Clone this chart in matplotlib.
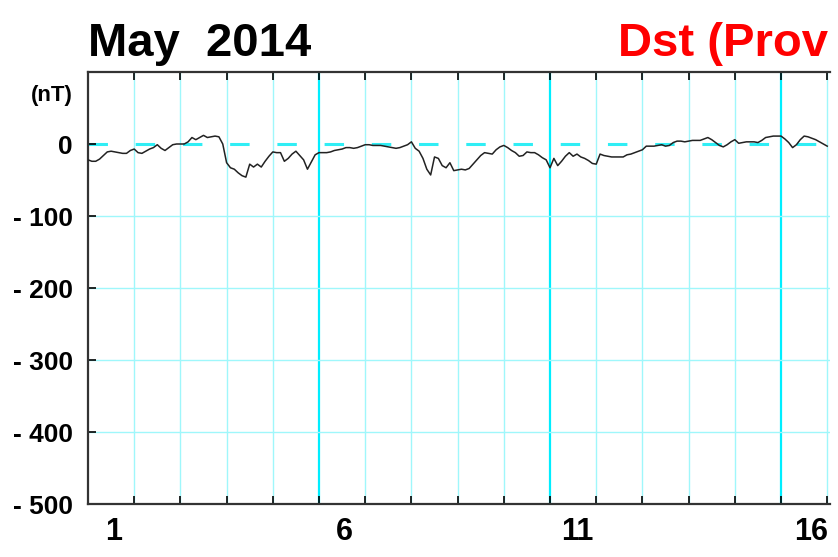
import numpy as np
import matplotlib
matplotlib.use("Agg")
import matplotlib.pyplot as plt

plt.rcParams['font.family'] = ['Liberation Sans', 'DejaVu Sans']
plt.rcParams['font.weight'] = 'bold'
plt.rcParams['lines.scale_dashes'] = False

# Dst (nT), 2-hourly values from 1 May 00h
dst = [
    -22, -24, -24, -21, -16, -11, -10, -11, -12, -13, -13, -9,   # 1
    -7, -12, -13, -10, -7, -5, -1, -6, -9, -5, -1, 0,            # 2
    0, 0, 3, 9, 6, 9, 12, 9, 10, 11, 10, 0,                      # 3
    -26, -33, -35, -40, -44, -46, -28, -32, -28, -32, -24, -17,  # 4
    -11, -12, -12, -24, -20, -14, -10, -16, -22, -35, -25, -15,  # 5
    -12, -12, -12, -11, -9, -8, -7, -5, -5, -6, -5, -3,          # 6
    -1, -1, -2, -2, -2, -3, -4, -5, -6, -5, -3, -1,              # 7
    3, -6, -10, -20, -35, -43, -18, -20, -30, -33, -26, -37,     # 8
    -36, -35, -36, -34, -28, -22, -16, -12, -13, -14, -8, -4,    # 9
    -2, -5, -9, -12, -17, -16, -11, -12, -12, -15, -19, -22,     # 10
    -33, -20, -30, -24, -17, -12, -17, -14, -18, -20, -23, -27,  # 11
    -28, -14, -16, -17, -18, -18, -18, -18, -15, -14, -12, -10,  # 12
    -8, -3, -3, -3, -2, -1, -3, -2, 2, 4, 4, 3,                  # 13
    4, 5, 5, 5, 7, 9, 6, 2, -2, -4, -1, 3,                       # 14
    6, 1, 2, 3, 3, 3, 2, 5, 9, 10, 11, 11,                       # 15
    11, 7, 2, -5, -1, 6, 11, 10, 8, 6, 3, 0, -3,                 # 16
]
hours_step = 2
day_labels = ['1', '6', '11', '16']
day_label_pos = [0.55, 5.55, 10.6, 15.65]
ytick_vals = [0, -100, -200, -300, -400, -500]
ytick_labels = ['0', '- 100', '- 200', '- 300', '- 400', '- 500']

t = np.arange(len(dst)) * hours_step / 24.0

fig = plt.figure(figsize=(8.38, 5.57), dpi=100)
ax = fig.add_axes([88/838, 1-504/557, (830-88)/838, (504-72)/557])
ax.set_xlim(0, 16.06)
ax.set_ylim(-500, 100)

# grid
for d in range(1, 17):
    if d % 5 == 0:
        ax.axvline(d, color='#00eeff', lw=1.6, zorder=1)
    else:
        ax.axvline(d, color='#9ff7fb', lw=1.0, zorder=1)
for v in [-100, -200, -300, -400]:
    ax.axhline(v, color='#9ff7fb', lw=1.0, zorder=1)
ax.axhline(0, color='#30eef5', lw=2.2, dashes=(14, 20), zorder=1)

ax.plot(t, dst, color='#222222', lw=1.1, zorder=3)

for s in ['left', 'top', 'bottom']:
    ax.spines[s].set_linewidth(1.6)
    ax.spines[s].set_color('#333333')
ax.spines['right'].set_visible(False)

ax.set_yticks(ytick_vals)
ax.set_yticklabels(ytick_labels, fontsize=19, fontweight='bold')
ax.tick_params(axis='y', direction='in', length=6, width=1.2, pad=11)

ax.set_xticks(range(1, 17))
ax.set_xticklabels([])
ax.tick_params(axis='x', which='major', direction='in', length=6, width=1.2,
               top=True, bottom=True)
ax.set_xticks(day_label_pos, minor=True)
ax.set_xticklabels(day_labels, minor=True, fontsize=22, fontweight='bold')
ax.tick_params(axis='x', which='minor', length=0, pad=9)

fig.text(88/838, 1-56/557, 'May  2014', fontsize=34, fontweight='bold',
         color='black', va='baseline', ha='left')
fig.text(828/838, 1-56/557, 'Dst (Prov', fontsize=34, fontweight='bold',
         color='#ff0000', va='baseline', ha='right')
fig.text(52/838, 1-95/557, '(nT)', fontsize=16, fontweight='bold',
         va='center', ha='center')

fig.savefig('out.png', dpi=100)
